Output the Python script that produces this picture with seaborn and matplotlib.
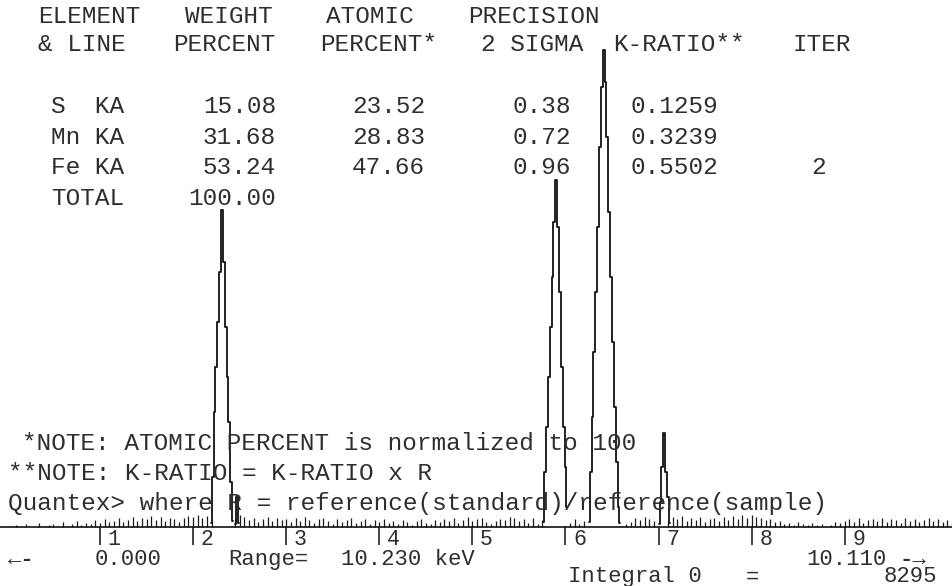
import matplotlib
matplotlib.use("Agg")
import matplotlib.pyplot as plt
import numpy as np
import seaborn as sns

# EDS spectrum printout (S, Mn, Fe) - counts

# background counts, one value every 0.05 keV from 0.00 to 10.20 keV
bg_counts = [0, 0, 2, 0, 3, 0, 0, 4, 0, 2, 3, 0, 5, 0, 3, 6, 2, 4, 3, 7,
             4, 8, 5, 6, 9, 5, 7, 10, 6, 9, 8, 11, 7, 10, 6, 9, 8, 5, 9, 11,
             10, 12, 9, 11, 6, 0, 0, 0, 0, 8, 12, 10, 7, 9, 5, 8, 10, 6, 9, 7,
             8, 5, 9, 6, 10, 7, 4, 8, 9, 6, 3, 8, 5, 7, 9, 4, 6, 8, 3, 7,
             5, 8, 4, 6, 3, 7, 5, 2, 6, 8, 4, 3, 7, 5, 8, 6, 9, 4, 7, 10,
             6, 8, 9, 5, 3, 6, 8, 7, 10, 9, 6, 8, 4, 9, 3, 7, 0, 0, 0, 0,
             0, 4, 8, 3, 6, 0, 0, 0, 0, 0, 0, 0, 0, 3, 5, 9, 7, 10, 8, 6,
             0, 0, 5, 10, 8, 11, 6, 9, 7, 10, 5, 8, 9, 6, 10, 7, 11, 8, 12, 9,
             12, 10, 9, 7, 8, 5, 6, 3, 4, 2, 5, 3, 2, 4, 2, 3, 0, 2, 5, 4,
             6, 8, 5, 9, 4, 7, 8, 6, 9, 5, 8, 7, 4, 9, 6, 8, 5, 7, 9, 6,
             8, 5, 7, 4, 6]
bg_kev = np.round(np.arange(len(bg_counts)) * 0.05, 2)

# peaks
s_ka_kev = [2.19, 2.21, 2.23, 2.25, 2.27, 2.29, 2.31, 2.33, 2.35, 2.37, 2.39, 2.41, 2.43]
s_ka_counts = [4, 50, 115, 160, 205, 255, 317, 265, 200, 150, 105, 45, 6]

s_kb_kev = [2.45, 2.47, 2.49]
s_kb_counts = [3, 30, 4]

mn_ka_kev = [5.76, 5.78, 5.80, 5.82, 5.84, 5.86, 5.88, 5.90, 5.92, 5.94, 5.96, 5.98, 6.00, 6.02]
mn_ka_counts = [5, 55, 100, 150, 200, 250, 305, 347, 300, 235, 160, 100, 60, 20]

fe_ka_kev = [6.25, 6.27, 6.29, 6.31, 6.33, 6.35, 6.37, 6.39, 6.41,
             6.43, 6.45, 6.47, 6.49, 6.51, 6.53, 6.55, 6.57, 6.59]
fe_ka_counts = [5, 55, 110, 175, 235, 300, 380, 440, 477,
                445, 390, 315, 250, 185, 120, 65, 20, 4]

fe_kb_kev = [7.00, 7.02, 7.04, 7.06, 7.08, 7.10, 7.12]
fe_kb_counts = [3, 25, 60, 94, 55, 30, 4]

peaks = [(s_ka_kev, s_ka_counts), (s_kb_kev, s_kb_counts), (mn_ka_kev, mn_ka_counts),
         (fe_ka_kev, fe_ka_counts), (fe_kb_kev, fe_kb_counts)]

# quant table
elements = ["S  KA", "Mn KA", "Fe KA"]
weight_pct = [15.08, 31.68, 53.24]
atomic_pct = [23.52, 28.83, 47.66]
precision = [0.38, 0.72, 0.96]
k_ratio = [0.1259, 0.3239, 0.5502]
iterations = ["", "", "2"]
total_weight = 100.00

energy_ticks = [1, 2, 3, 4, 5, 6, 7, 8, 9]

# Setup
sns.set_theme(style="white")
plt.rcParams["font.family"] = ["Liberation Mono", "DejaVu Sans Mono"]

W, H = 953, 586
INK = "#2e2e2e"
FS = 17.6

fig = plt.figure(figsize=(W / 100, H / 100), dpi=100)
fig.patch.set_facecolor("white")
ax = fig.add_axes([0, 0, 1, 1])
ax.set_facecolor("white")

# spectrum
ax.vlines(bg_kev, 0, bg_counts, colors="#1a1a1a", lw=0.9)
for kev, counts in peaks:
  sns.lineplot(x=kev, y=counts, ax=ax, color="#111111", lw=1.3,
               drawstyle="steps-mid", legend=False, sort=False)

ax.set_xlim(-6.9 / 93.1, (W - 6.9) / 93.1)
ax.set_ylim(-59, 527)
for side in ["left", "right", "top"]:
  ax.spines[side].set_visible(False)
ax.spines["bottom"].set_position(("data", 0))
ax.spines["bottom"].set_color("#111111")
ax.spines["bottom"].set_linewidth(1.2)
ax.set_yticks([])
ax.set_xticks(energy_ticks)
ax.set_xticklabels([])
ax.tick_params(axis="x", direction="out", length=13, width=1.1, color="#111111", bottom=True)
ax.set_xlabel("")
ax.set_ylabel("")
for t in energy_ticks:
  ax.annotate(str(t), xy=(t, 0), xytext=(5.5, -13.3), textcoords="offset points",
              ha="left", va="baseline", color=INK, fontsize=15.5)

def put(x, y, s, ha="left", fs=FS, **kw):
  # x, y in reference pixels (y = vertical centre of the capitals)
  em = fs * 100 / 72
  fig.text(x / W, 1 - (y + 0.33 * em) / H, s, ha=ha, va="baseline", color=INK, fontsize=fs, **kw)

# table header
put(38, 15, "ELEMENT")
put(185, 15, "WEIGHT")
put(326, 15, "ATOMIC")
put(468, 15, "PRECISION")
put(38, 43, "& LINE")
put(173, 43, "PERCENT")
put(320, 43, "PERCENT*")
put(481, 43, "2 SIGMA")
put(613, 43, "K-RATIO**")
put(793, 43, "ITER")

rows_y = [105, 136, 166]
for i, y in enumerate(rows_y):
  put(51, y, elements[i])
  put(276, y, "%.2f" % weight_pct[i], ha="right")
  put(425, y, "%.2f" % atomic_pct[i], ha="right")
  put(571, y, "%.2f" % precision[i], ha="right")
  put(718, y, "%.4f" % k_ratio[i], ha="right")
  put(826, y, iterations[i], ha="right")
put(51, 197, "TOTAL")
put(276, 197, "%.2f" % total_weight, ha="right")

# notes
put(22, 442, "*NOTE: ATOMIC PERCENT is normalized to 100")
put(8, 472, "**NOTE: K-RATIO = K-RATIO x R")
put(8, 502, "Quantex> where R = reference(standard)/reference(sample)")

# footer
FF = 16
put(8, 558, "←-", fs=FF, fontweight="bold")
put(95, 558, "0.000", fs=FF)
put(228, 558, "Range=", fs=FF)
put(341, 558, "10.230 keV", fs=FF)
put(806, 558, "10.110", fs=FF)
put(900, 558, "-→", fs=FF, fontweight="bold")
put(568, 575, "Integral 0", fs=FF)
put(746, 575, "=", fs=FF)
put(937, 575, "8295", ha="right", fs=FF)

plt.savefig("out.png", dpi=100)
plt.close()
